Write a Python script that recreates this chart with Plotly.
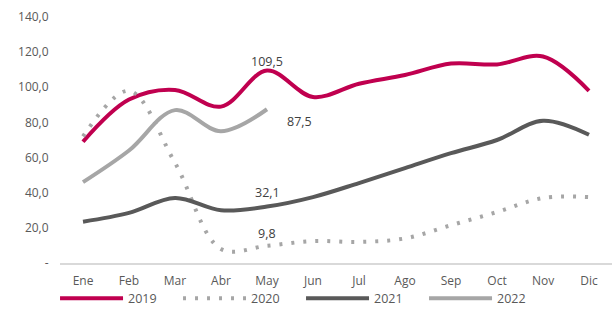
import plotly.graph_objects as go

months = ["Ene", "Feb", "Mar", "Abr", "May", "Jun", "Jul", "Ago", "Sep", "Oct", "Nov", "Dic"]
y2019 = [69, 93, 98.5, 89, 109.5, 94.5, 102, 107, 113.5, 113, 117.5, 98]
y2020 = [72, 98, 57, 8, 9.8, 12.5, 12, 14, 21.5, 29, 37, 37.5]
y2021 = [23.5, 28.5, 37, 30, 32.1, 37.5, 45.5, 54, 62.5, 70, 81, 73]
y2022 = [46, 64, 87, 75, 87.5]
ytick_vals = [0, 20, 40, 60, 80, 100, 120, 140]
ytick_text = ["-", "20,0", "40,0", "60,0", "80,0", "100,0", "120,0", "140,0"]

fig = go.Figure()
fig.add_trace(go.Scatter(x=months, y=y2019, name="2019", mode="lines",
                         line=dict(color="#C0004F", width=4, shape="spline", smoothing=1)))
fig.add_trace(go.Scatter(x=months, y=y2020, name="2020", mode="lines",
                         line=dict(color="#A6A6A6", width=4, shape="spline", smoothing=1, dash="3px,9px")))
fig.add_trace(go.Scatter(x=months, y=y2021, name="2021", mode="lines",
                         line=dict(color="#595959", width=4, shape="spline", smoothing=1)))
fig.add_trace(go.Scatter(x=months[:5], y=y2022, name="2022", mode="lines",
                         line=dict(color="#A6A6A6", width=4, shape="spline", smoothing=1)))

ann_font = dict(family="Open Sans, sans-serif", size=12.5, color="#404040")
fig.add_annotation(x="May", y=y2019[4], text="109,5", showarrow=False, yshift=9, font=ann_font)
fig.add_annotation(x="May", y=y2022[4], text="87,5", showarrow=False, xshift=32, yshift=-12, font=ann_font)
fig.add_annotation(x="May", y=y2021[4], text="32,1", showarrow=False, yshift=14, font=ann_font)
fig.add_annotation(x="May", y=y2020[4], text="9,8", showarrow=False, yshift=12, font=ann_font)

fig.update_layout(
    width=612, height=335,
    margin=dict(l=60, r=0, t=17, b=72),
    paper_bgcolor="white", plot_bgcolor="white",
    font=dict(family="Open Sans, sans-serif", size=12, color="#595959"),
    showlegend=True,
    legend=dict(orientation="h", x=-0.009, xanchor="left", y=-0.145, yanchor="middle",
                itemwidth=63, entrywidth=45, entrywidthmode="pixels",
                bgcolor="rgba(0,0,0,0)",
                font=dict(size=12.5, color="#595959")),
    xaxis=dict(type="category", range=[-0.5, 11.5], showgrid=False, showline=True, automargin=False,
               linecolor="#D9D9D9", linewidth=1.5, ticks="outside", ticklen=6, tickcolor="rgba(0,0,0,0)",
               zeroline=False),
    yaxis=dict(range=[0, 140], tickvals=ytick_vals, ticktext=ytick_text, showgrid=False, automargin=False,
               showline=False, zeroline=False, ticks="outside", ticklen=8, tickcolor="rgba(0,0,0,0)"),
)
fig.write_html("out.html", config={"displayModeBar": False},
               post_script="document.body.style.margin='0px';")
